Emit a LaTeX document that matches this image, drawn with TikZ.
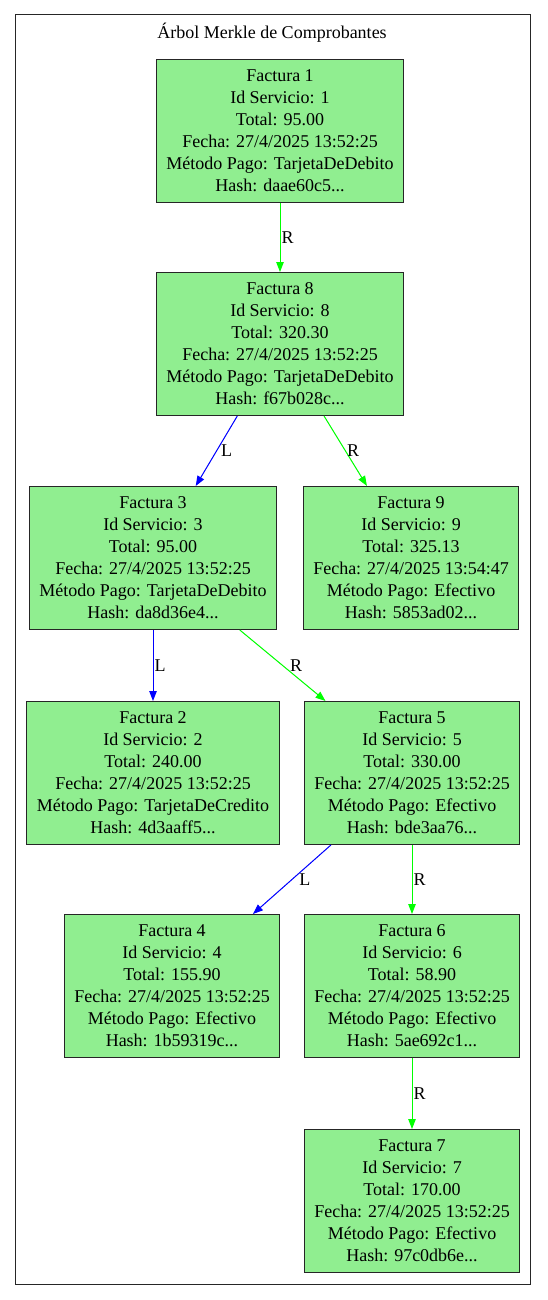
\documentclass[tikz,border=0pt]{standalone}
\usepackage{fontspec}
\setmainfont{Liberation Serif}
\usetikzlibrary{arrows.meta}
\definecolor{facturagreen}{RGB}{144,238,144}
\definecolor{edgegreen}{RGB}{0,255,0}
\definecolor{edgeblue}{RGB}{0,0,255}
\newcommand{\fact}[6]{Factura #1\\ Id Servicio: #2\\ Total: #3\\ Fecha: #4\\ Método Pago: #5\\ Hash: #6...}

\begin{document}
\begin{tikzpicture}[
    % GLOBAL CFG
    x=1pt, y=-1pt,
    font=\fontsize{18}{22}\selectfont,
    >={Triangle[length=10pt,width=7.5pt]},
    % Styles
    cluster/.style={% For the outer frame
        rectangle,
        draw=black!85,
        line width=1pt,
    },
    factura/.style={% For each invoice
        rectangle,
        draw=black!85,
        line width=1pt,
        fill=facturagreen,
        minimum height=143pt,
        inner xsep=10pt,
        align=center,
    },
    edgelabel/.style={
        anchor=west,
        inner sep=1pt,
        text=black,
    },
    ArrowL/.style={% Left child
        ->,
        draw=edgeblue,
        fill=edgeblue,
        line width=1pt,
    },
    ArrowR/.style={% Right child
        ->,
        draw=edgegreen,
        fill=edgegreen,
        line width=1pt,
    },
    ]
    \useasboundingbox (0,0) rectangle (547,1300);

    % Draw cluster
    \draw [cluster] (15,15) rectangle (530,1284);
    \node (title) at (272,33) {Árbol Merkle de Comprobantes};

    % Draw invoices named f#
    \node [factura] (f1) at (280,131) {\fact{1}{1}{95.00}{27/4/2025 13:52:25}{TarjetaDeDebito}{daae60c5}};
    \node [factura] (f8) at (280,344) {\fact{8}{8}{320.30}{27/4/2025 13:52:25}{TarjetaDeDebito}{f67b028c}};
    \node [factura] (f3) at (153,558) {\fact{3}{3}{95.00}{27/4/2025 13:52:25}{TarjetaDeDebito}{da8d36e4}};
    \node [factura] (f9) at (411,558) {\fact{9}{9}{325.13}{27/4/2025 13:54:47}{Efectivo}{5853ad02}};
    \node [factura] (f2) at (153,773) {\fact{2}{2}{240.00}{27/4/2025 13:52:25}{TarjetaDeCredito}{4d3aaff5}};
    \node [factura] (f5) at (412,773) {\fact{5}{5}{330.00}{27/4/2025 13:52:25}{Efectivo}{bde3aa76}};
    \node [factura] (f4) at (172,986) {\fact{4}{4}{155.90}{27/4/2025 13:52:25}{Efectivo}{1b59319c}};
    \node [factura] (f6) at (412,986) {\fact{6}{6}{58.90}{27/4/2025 13:52:25}{Efectivo}{5ae692c1}};
    \node [factura] (f7) at (412,1201) {\fact{7}{7}{170.00}{27/4/2025 13:52:25}{Efectivo}{97c0db6e}};

    % Edges
    \draw [ArrowR] (f1) -- node[edgelabel] {R} (f8);
    \draw [ArrowL] (f8) -- node[edgelabel, xshift=3pt] {L} (f3);
    \draw [ArrowR] (f8) -- node[edgelabel] {R} (f9);
    \draw [ArrowL] (f3) -- node[edgelabel] {L} (f2);
    \draw [ArrowR] (f3) -- node[edgelabel, xshift=6pt] {R} (f5);
    \draw [ArrowL] (f5) -- node[edgelabel, xshift=6pt] {L} (f4);
    \draw [ArrowR] (f5) -- node[edgelabel] {R} (f6);
    \draw [ArrowR] (f6) -- node[edgelabel] {R} (f7);

\end{tikzpicture}
\end{document}
